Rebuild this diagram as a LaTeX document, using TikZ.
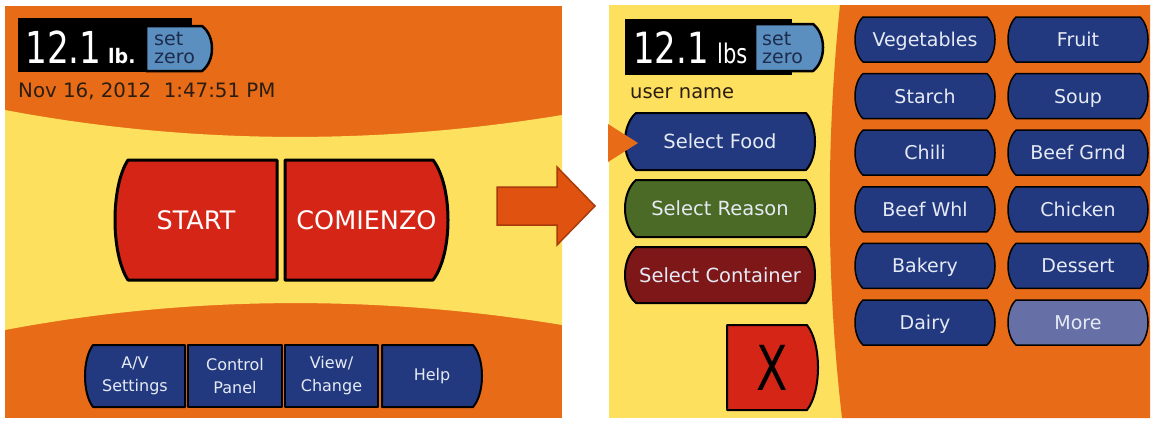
\documentclass[tikz,border=0pt]{standalone}
\usepackage{graphicx}
\usepackage{fontspec}
\setmainfont{DejaVu Sans}
\definecolor{uiorange}{HTML}{E86C17}
\definecolor{uiyellow}{HTML}{FDE05E}
\definecolor{uinavy}{HTML}{22397F}
\definecolor{uired}{HTML}{D42516}
\definecolor{uigreen}{HTML}{4A6A25}
\definecolor{uidarkred}{HTML}{7E1717}
\definecolor{uimore}{HTML}{6670A6}
\definecolor{setblue}{HTML}{5A8FC0}
\definecolor{settext}{HTML}{1E2B4D}
\definecolor{btntxt}{HTML}{E6EAF4}
\definecolor{datetext}{HTML}{2B1D10}
\definecolor{arrowfill}{HTML}{E0520F}
\definecolor{arrowline}{HTML}{A93A0C}
% shape: x1 y1 x2 y2 bulgeleft bulgeright style
\newcommand\uishape[7]{%
  \pgfmathsetmacro\uA{#1+#5}%
  \pgfmathsetmacro\uB{#3-#6}%
  \pgfmathsetmacro\uC{#1-#5/3}%
  \pgfmathsetmacro\uD{#3+#6/3}%
  \pgfmathsetmacro\uE{#2+(#4-#2)*0.22}%
  \pgfmathsetmacro\uF{#4-(#4-#2)*0.22}%
  \draw[btnline,#7] (\uA,#2) -- (\uB,#2) .. controls (\uD,\uE) and (\uD,\uF) .. (\uB,#4) -- (\uA,#4) .. controls (\uC,\uF) and (\uC,\uE) .. (\uA,#2) -- cycle;
}
% button: name x1 y1 x2 y2 bl br style text
\newcommand\uibtn[9]{%
  \uishape{#2}{#3}{#4}{#5}{#6}{#7}{#8}%
  \pgfmathsetmacro\uX{(#2+#4)/2}%
  \pgfmathsetmacro\uY{(#3+#5)/2}%
  \node[btntext] (#1) at (\uX,\uY) {#9};
}
\begin{document}
\begin{tikzpicture}[x=1pt,y=-1pt,
  btnline/.style={draw=black,line width=1.6pt,line join=round},
  btntext/.style={text=btntxt,inner sep=0pt,align=center,font=\fontsize{19}{22}\selectfont,text height=13.9pt,text depth=0pt},
  lbl/.style={inner sep=0pt,anchor=base west}]
\useasboundingbox (0,0) rectangle (1155,421);
\fill[white] (0,0) rectangle (1155,421);
% ---------------- left panel
\fill[uiorange] (5,6) rectangle (562,418);
\fill[uiyellow] (5,110) .. controls (190,145) and (380,145) .. (562,115) -- (562,325) .. controls (380,295) and (190,295) .. (5,330) -- cycle;
\fill[black] (18,18) rectangle (192,72);
\uishape{146}{26}{212}{71}{0}{10}{fill=setblue,line width=2.5pt}
\node[lbl,text=white,font=\fontsize{44}{44}\selectfont] (wtL) at (25,63) {\scalebox{0.78}[1]{12.1}};
\node[lbl,text=white,font=\bfseries\fontsize{20}{20}\selectfont] (unitL) at (108,63) {\scalebox{0.95}[1]{lb.}};
\node[lbl,text=settext,font=\fontsize{19}{19}\selectfont] (setL) at (154,45) {set};
\node[lbl,text=settext,font=\fontsize{19}{19}\selectfont] (zeroL) at (154,63) {zero};
\node[lbl,text=datetext,font=\fontsize{19.8}{19.8}\selectfont] (dateL) at (18,97) {Nov 16, 2012\ \ 1:47:51 PM};
\begin{scope}[btntext/.append style={text=white,font=\fontsize{25.5}{26}\selectfont,text height=18.6pt}]
\uibtn{start}{115}{160}{277}{280}{13}{0}{fill=uired,line width=3pt}{START}
\uibtn{comienzo}{285}{160}{448}{280}{0}{15}{fill=uired,line width=3pt}{COMIENZO}
\end{scope}
\begin{scope}[btntext/.append style={font=\fontsize{16}{23}\selectfont,text height=,text depth=}]
\uibtn{av}{85}{345}{185}{407}{8}{0}{fill=uinavy,line width=2pt}{A/V\\Settings}
\uibtn{ctrl}{188}{345}{282}{407}{0}{0}{fill=uinavy,line width=2pt}{Control\\Panel}
\uibtn{view}{285}{345}{378}{407}{0}{0}{fill=uinavy,line width=2pt}{View/\\Change}
\uibtn{help}{382}{345}{482}{407}{0}{9}{fill=uinavy,line width=2pt}{Help}
\end{scope}
% ---------------- right panel
\fill[uiyellow] (609,5) rectangle (1150,418);
\fill[uiorange] (840,5) -- (1150,5) -- (1150,418) -- (842,418) .. controls (826,280) and (826,140) .. (840,5) -- cycle;
\fill[black] (625,19) rectangle (792,75);
\uishape{755}{24}{823}{71}{0}{10}{fill=setblue,line width=2.5pt}
\node[lbl,text=white,font=\fontsize{43}{43}\selectfont] (wtR) at (633,63) {\scalebox{0.79}[1]{12.1}};
\node[lbl,text=white,font=\fontsize{27}{27}\selectfont] (unitR) at (717,63) {\scalebox{0.78}[1]{lbs}};
\node[lbl,text=settext,font=\fontsize{19}{19}\selectfont] (setR) at (762,45) {set};
\node[lbl,text=settext,font=\fontsize{19}{19}\selectfont] (zeroR) at (762,63) {zero};
\node[lbl,text=datetext,font=\fontsize{19.5}{19.5}\selectfont] (user) at (630,98) {user name};
\begin{scope}[btntext/.append style={font=\fontsize{19.5}{22}\selectfont,text height=14.2pt}]
\uibtn{food}{625}{113}{815}{170}{11}{9}{fill=uinavy,line width=2pt}{Select Food}
\uibtn{reason}{625}{180}{815}{237}{11}{9}{fill=uigreen,line width=2pt}{Select Reason}
\uibtn{container}{625}{247}{815}{303}{11}{9}{fill=uidarkred,line width=2pt}{Select Container}
\end{scope}
\fill[uiorange] (608,124) -- (638,143) -- (608,162) -- cycle;
\begin{scope}[btntext/.append style={text=black,font=\fontsize{62}{62}\selectfont,text height=45pt}]
\uibtn{xbtn}{727}{325}{818}{410}{0}{11}{fill=uired,line width=2pt}{\scalebox{0.74}[1]{X}}
\end{scope}
\foreach \r/\a/\b in {0/Vegetables/Fruit,1/Starch/Soup,2/Chili/Beef Grnd,3/Beef Whl/Chicken,4/Bakery/Dessert}{
  \pgfmathsetmacro\ty{17+\r*56.6}
  \pgfmathsetmacro\by{\ty+45}
  \uibtn{fa\r}{855}{\ty}{995}{\by}{8}{8}{fill=uinavy,line width=1.5pt}{\a}
  \uibtn{fb\r}{1008}{\ty}{1148}{\by}{8}{8}{fill=uinavy,line width=1.5pt}{\b}
}
\uibtn{dairy}{855}{300}{995}{345}{8}{8}{fill=uinavy,line width=1.5pt}{Dairy}
\uibtn{more}{1008}{300}{1148}{345}{8}{8}{fill=uimore,line width=1.5pt}{More}
% ---------------- arrow between screens
\draw[fill=arrowfill,draw=arrowline,line width=1.5pt,line join=miter] (497,187) -- (557,187) -- (557,167) -- (595,206) -- (557,245) -- (557,225) -- (497,225) -- cycle;
\end{tikzpicture}
\end{document}
